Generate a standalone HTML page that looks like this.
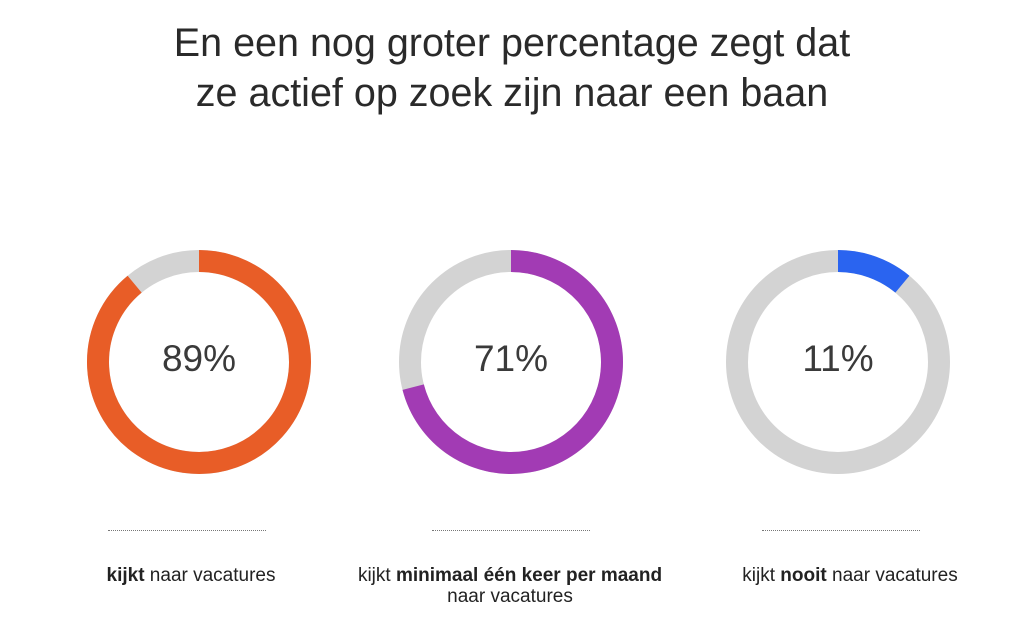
<!DOCTYPE html>
<html><head><meta charset="utf-8"><style>
body{margin:0;width:1024px;height:632px;background:#fff;font-family:"Liberation Sans",sans-serif;overflow:hidden;position:relative}
.title{position:absolute;top:18px;left:0;width:1024px;text-align:center;font-size:39.5px;line-height:50px;color:#2a2a2a}
.dots{position:absolute;top:530px;width:158px;border-top:1.5px dotted #777}
.lab{position:absolute;top:565px;width:360px;text-align:center;font-size:19px;line-height:21px;color:#222}
</style></head><body>
<div class="title">En een nog groter percentage zegt dat<br>ze actief op zoek zijn naar een baan</div>
<svg id="chart" width="1024" height="632" style="position:absolute;left:0;top:0"></svg>
<div class="dots" style="left:108px"></div>
<div class="dots" style="left:432px"></div>
<div class="dots" style="left:762px"></div>
<div class="lab" style="left:11px"><b>kijkt</b> naar vacatures</div>
<div class="lab" style="left:330px">kijkt <b>minimaal één keer per maand</b><br>naar vacatures</div>
<div class="lab" style="left:670px">kijkt <b>nooit</b> naar vacatures</div>
<script>
const categories=["kijkt","minimaal één keer per maand","nooit"];
const values=[89,71,11];
const colors=["#e85d27","#a23bb4","#2a64f0"];
const centersX=[199,511,838];
const cy=362,r=101,sw=22;
const svg=document.getElementById('chart');
const NS="http://www.w3.org/2000/svg";
function pt(a){return a*Math.PI/180;}
values.forEach((v,i)=>{
  const cx=centersX[i];
  const bg=document.createElementNS(NS,'circle');
  
  
  bg.setAttribute('cx',cx);bg.setAttribute('cy',cy);bg.setAttribute('r',r);
  bg.setAttribute('fill','none');bg.setAttribute('stroke','#d3d3d3');bg.setAttribute('stroke-width',sw);
  svg.appendChild(bg);
  const ang=v/100*360;
  const x1=cx,y1=cy-r;
  const x2=cx+r*Math.sin(pt(ang)),y2=cy-r*Math.cos(pt(ang));
  const p=document.createElementNS(NS,'path');
  
  
  p.setAttribute('d',`M${x1} ${y1} A${r} ${r} 0 ${ang>180?1:0} 1 ${x2} ${y2}`);
  p.setAttribute('fill','none');p.setAttribute('stroke',colors[i]);p.setAttribute('stroke-width',sw);
  svg.appendChild(p);
  const t=document.createElementNS(NS,'text');
  
  
  t.setAttribute('x',cx);t.setAttribute('y',cy+9);t.setAttribute('text-anchor','middle');
  t.setAttribute('font-size','37');t.setAttribute('fill','#3a3a3a');t.setAttribute('font-family','Liberation Sans, sans-serif');
  t.textContent=v+'%';
  svg.appendChild(t);
});
</script>
</body></html>
